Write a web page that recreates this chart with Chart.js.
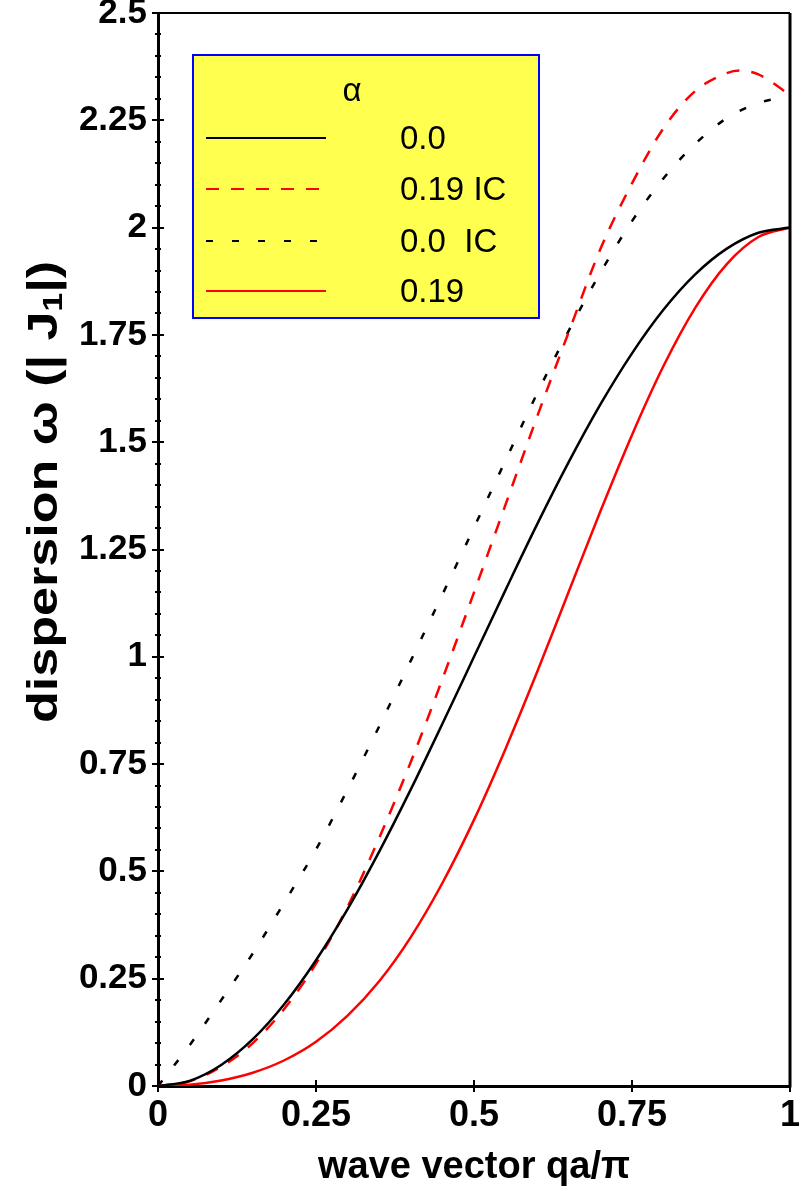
<!DOCTYPE html>
<html lang="en">
<head>
    <meta charset="UTF-8">
    <title>Dispersion</title>
    <script src="https://cdn.jsdelivr.net/npm/chart.js@4.4.1/dist/chart.umd.min.js"></script>
    <style>
        body { margin: 0; background: #fff; }
        #wrap { width: 801px; height: 1204px; }
    </style>
</head>
<body>
    <div id="wrap">
        <canvas id="myChart" width="801" height="1204"></canvas>
    </div>

    <script>
      // wave vector qa/pi
      const qValues = [0, 0.05, 0.1, 0.15, 0.2, 0.25, 0.3, 0.35, 0.4, 0.45, 0.5,
                       0.55, 0.6, 0.65, 0.7, 0.75, 0.8, 0.85, 0.9, 0.95, 1];
      const qValuesIC = [0, 0.05, 0.1, 0.15, 0.2, 0.25, 0.3, 0.35, 0.4, 0.45, 0.5,
                         0.55, 0.6, 0.65, 0.7, 0.75, 0.8, 0.85, 0.9, 0.92, 0.95, 1];

      // dispersion
      const omegaA0 = [0, 0.012, 0.049, 0.109, 0.191, 0.293, 0.412, 0.546, 0.691, 0.844, 1.0,
                       1.156, 1.309, 1.454, 1.588, 1.707, 1.809, 1.891, 1.951, 1.988, 2.0];
      const omegaA019IC = [0, 0.011, 0.045, 0.100, 0.180, 0.285, 0.418, 0.578, 0.755, 0.948, 1.150,
                           1.355, 1.560, 1.757, 1.950, 2.103, 2.232, 2.318, 2.360, 2.366, 2.357, 2.309];
      const omegaA0IC = [0, 0.095, 0.200, 0.309, 0.428, 0.551, 0.691, 0.838, 0.991, 1.145, 1.301,
                         1.458, 1.614, 1.760, 1.895, 2.015, 2.115, 2.195, 2.255, 2.290, 2.307];
      const omegaA019 = [0, 0.003, 0.013, 0.031, 0.060, 0.103, 0.164, 0.244, 0.347, 0.473, 0.620,
                         0.786, 0.965, 1.152, 1.339, 1.517, 1.678, 1.813, 1.915, 1.978, 2.0];

      const legendTitle = '\u03b1';
      const seriesLabels = ['0.0', '0.19 IC', '0.0  IC', '0.19'];

      const FONT = '"Liberation Sans", Arial, sans-serif';
      Chart.defaults.font.family = FONT;
      Chart.defaults.color = '#000';

      function points(xs, ys) {
        return xs.map((x, i) => ({ x: x, y: ys[i] }));
      }

      function fmt(v) {
        return String(+Number(v).toFixed(2));
      }

      // frame, minor ticks, inner tick marks
      const framePlugin = {
        id: 'frame',
        afterDraw(chart) {
          const ctx = chart.ctx;
          const a = chart.chartArea;
          const xs = chart.scales.x;
          const ys = chart.scales.y;
          ctx.save();
          ctx.strokeStyle = '#000';
          ctx.lineWidth = 2;
          ctx.beginPath();
          ctx.moveTo(a.left, a.top);
          ctx.lineTo(a.right, a.top);
          ctx.stroke();
          ctx.lineWidth = 3;
          ctx.beginPath();
          ctx.moveTo(a.right, a.top);
          ctx.lineTo(a.right, a.bottom + 1.5);
          ctx.stroke();

          ctx.lineWidth = 2;
          for (let i = 1; i < 50; i++) {
            const py = Math.round(ys.getPixelForValue(i * 0.05));
            ctx.beginPath();
            if (i % 5 === 0) {
              ctx.moveTo(a.left, py);
              ctx.lineTo(a.left + 6, py);
            } else {
              ctx.moveTo(a.left - 3, py);
              ctx.lineTo(a.left + 3, py);
            }
            ctx.stroke();
          }
          for (let i = 1; i < 4; i++) {
            const px = Math.round(xs.getPixelForValue(i * 0.25));
            ctx.beginPath();
            ctx.moveTo(px, a.bottom);
            ctx.lineTo(px, a.bottom - 6);
            ctx.stroke();
          }
          ctx.restore();
        }
      };

      // axis titles (y title needs a subscript)
      const titlePlugin = {
        id: 'titles',
        afterDraw(chart) {
          const ctx = chart.ctx;
          ctx.save();
          ctx.fillStyle = '#000';
          ctx.textBaseline = 'middle';

          ctx.font = 'bold 38px ' + FONT;
          ctx.textAlign = 'center';
          ctx.fillText('wave vector qa/\u03c0', 474, 1168);

          ctx.translate(45, 492);
          ctx.rotate(-Math.PI / 2);
          ctx.scale(1.24, 1);
          const big = 'bold 42px ' + FONT;
          const small = 'bold 27px ' + FONT;
          const parts = [
            { t: 'dispersion \u03c9 (| J', f: big, dy: 0 },
            { t: '1', f: small, dy: 10 },
            { t: '|)', f: big, dy: 0 }
          ];
          let total = 0;
          parts.forEach(p => { ctx.font = p.f; p.w = ctx.measureText(p.t).width; total += p.w; });
          let x = -total / 2;
          ctx.textAlign = 'left';
          parts.forEach(p => {
            ctx.font = p.f;
            ctx.fillText(p.t, x, p.dy);
            x += p.w;
          });
          ctx.restore();
        }
      };

      // boxed legend
      const legendPlugin = {
        id: 'boxLegend',
        afterDraw(chart) {
          const ctx = chart.ctx;
          ctx.save();
          ctx.fillStyle = '#ffff50';
          ctx.fillRect(193, 55, 346, 263);
          ctx.strokeStyle = '#0000ff';
          ctx.lineWidth = 2;
          ctx.strokeRect(193, 55, 346, 263);

          ctx.fillStyle = '#000';
          ctx.font = '33px ' + FONT;
          ctx.textBaseline = 'middle';
          ctx.textAlign = 'center';
          ctx.fillText(legendTitle, 352, 92);

          ctx.textAlign = 'left';
          const rows = [138, 189, 241, 291];
          chart.data.datasets.forEach((ds, i) => {
            ctx.strokeStyle = ds.borderColor;
            ctx.lineWidth = 2;
            ctx.setLineDash(ds.borderDash || []);
            ctx.beginPath();
            ctx.moveTo(206, rows[i]);
            ctx.lineTo(326, rows[i]);
            ctx.stroke();
            ctx.setLineDash([]);
            ctx.fillText(ds.label, 400, rows[i] + 2);
          });
          ctx.restore();
        }
      };

      const lineStyle = {
        pointRadius: 0,
        borderWidth: 2.5,
        fill: false,
        cubicInterpolationMode: 'monotone'
      };

      const chart = document.getElementById('myChart');
      const chartContext = chart.getContext('2d');

      new Chart(chartContext, {
        type: 'line',
        data: {
          datasets: [
            Object.assign({ label: seriesLabels[0], data: points(qValues, omegaA0),
              borderColor: '#000000' }, lineStyle),
            Object.assign({ label: seriesLabels[1], data: points(qValuesIC, omegaA019IC),
              borderColor: '#ff0000', borderDash: [13, 12] }, lineStyle),
            Object.assign({ label: seriesLabels[2], data: points(qValues, omegaA0IC),
              borderColor: '#000000', borderDash: [7, 19] }, lineStyle),
            Object.assign({ label: seriesLabels[3], data: points(qValues, omegaA019),
              borderColor: '#ff0000' }, lineStyle)
          ]
        },
        options: {
          responsive: false,
          animation: false,
          layout: { padding: { top: 13, right: 11, left: 0, bottom: 0 } },
          plugins: {
            legend: { display: false },
            tooltip: { enabled: false }
          },
          scales: {
            x: {
              type: 'linear',
              min: 0,
              max: 1,
              grid: { display: true, drawOnChartArea: false, drawTicks: true, tickLength: 6,
                      color: '#000', lineWidth: 2 },
              border: { display: true, color: '#000', width: 3 },
              ticks: { stepSize: 0.25, padding: 2, maxRotation: 0,
                       font: { size: 36, weight: 'bold' }, callback: fmt },
              afterFit(scale) {
                scale.height = 118;
                scale.paddingLeft = 0; scale.paddingRight = 0;
                scale.paddingTop = 0; scale.paddingBottom = 0;
              }
            },
            y: {
              min: 0,
              max: 2.5,
              grid: { display: true, drawOnChartArea: false, drawTicks: true, tickLength: 6,
                      color: '#000', lineWidth: 2 },
              border: { display: true, color: '#000', width: 3 },
              ticks: { stepSize: 0.25, padding: 5,
                       font: { size: 35, weight: 'bold' }, callback: fmt },
              afterFit(scale) {
                scale.width = 158;
                scale.paddingLeft = 0; scale.paddingRight = 0;
                scale.paddingTop = 0; scale.paddingBottom = 0;
              }
            }
          }
        },
        plugins: [framePlugin, titlePlugin, legendPlugin]
      });
    </script>
</body>
</html>
